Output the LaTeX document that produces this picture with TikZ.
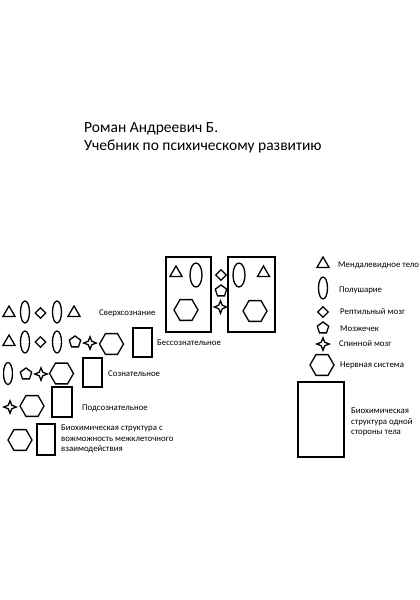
\documentclass[tikz,border=0pt]{standalone}
\usepackage{fontspec}
\setmainfont{Carlito}
\usetikzlibrary{shapes.geometric}

\tikzset{
  sign/.style={draw=black, line width=1.3pt, inner sep=0pt},
  tri/.style={sign, regular polygon, regular polygon sides=3, minimum size=14pt},
  oval/.style={sign, ellipse, minimum width=9pt, minimum height=22pt},
  bigoval/.style={sign, ellipse, minimum width=12pt, minimum height=24pt},
  dmd/.style={sign, diamond, minimum size=11pt},
  pent/.style={sign, regular polygon, regular polygon sides=5, minimum size=12pt},
  spark/.style={sign, star, star points=4, star point ratio=0.4, minimum size=5pt,
    shape border rotate=45},
  hex/.style={sign, regular polygon, regular polygon sides=6, minimum size=24pt},
  slab/.style={draw=black, line width=1.3pt},
  caption/.style={anchor=west, inner sep=0pt, font=\fontsize{8.8}{10.5}\selectfont},
  title/.style={anchor=base west, inner sep=0pt, font=\fontsize{15.5}{18}\selectfont}
}

\begin{document}
\begin{tikzpicture}[x=1pt, y=-1pt]
    % Page of the cover
    \useasboundingbox[fill=white] (0, 0) rectangle (420, 600);

    % Author and title
    \node[title] (author) at (84, 132) {Роман Андреевич Б.};
    \node[title] (book) at (84, 150) {Учебник по психическому развитию};

    % Row of the superconscious
    \node[tri] (a1) at (9, 313) {};
    \node[oval] (a2) at (25, 312) {};
    \node[dmd] (a3) at (40.5, 313) {};
    \node[oval] (a4) at (57, 312) {};
    \node[tri] (a5) at (74, 313) {};
    \node[caption] (super) at (99, 313) {Сверхсознание};

    % Row of the unconscious
    \node[tri] (b1) at (9, 342) {};
    \node[oval] (b2) at (25, 342) {};
    \node[dmd] (b3) at (40.5, 342) {};
    \node[oval] (b4) at (57, 342) {};
    \node[pent] (b5) at (75, 342) {};
    \node[spark] (b6) at (90, 343) {};
    \node[hex] (b7) at (111.5, 344) {};
    \draw[slab] (133, 328) rectangle (152, 357);
    \node[caption] (uncon) at (157, 343) {Бессознательное};

    % Row of the conscious
    \node[oval] (c1) at (8, 373.5) {};
    \node[pent] (c2) at (26, 374) {};
    \node[spark] (c3) at (41, 374) {};
    \node[hex] (c4) at (61.5, 373.5) {};
    \draw[slab] (83, 358) rectangle (102, 387);
    \node[caption] (con) at (108, 374) {Сознательное};

    % Row of the subconscious
    \node[spark] (d1) at (10, 407) {};
    \node[hex] (d2) at (32, 406) {};
    \draw[slab] (52, 387) rectangle (72, 417);
    \node[caption] (subcon) at (82, 408) {Подсознательное};

    % Row of the biochemical structure
    \node[hex] (e1) at (20, 440) {};
    \draw[slab] (37, 424) rectangle (55, 455);
    \node[caption, anchor=north west, align=left] (bio) at (61, 425)
      {Биохимическая структура с\\вожможность межклеточного\\взаимодействия};

    % Two halves of the body
    \draw[slab] (166, 257) rectangle (211, 332);
    \node[tri] (l1) at (176, 273) {};
    \node[bigoval] (l2) at (196, 275) {};
    \node[hex] (l3) at (186, 310) {};

    \node[dmd] (m1) at (221, 275) {};
    \node[pent] (m2) at (221, 291) {};
    \node[spark] (m3) at (220.5, 307) {};

    \draw[slab] (228, 257) rectangle (275, 332);
    \node[bigoval] (r1) at (239, 275) {};
    \node[tri] (r2) at (263.5, 273) {};
    \node[hex] (r3) at (255, 311) {};

    % Legend
    \node[tri] (k1) at (323, 264) {};
    \node[caption] at (338, 265) {Мендалевидное тело};
    \node[oval] (k2) at (323, 288) {};
    \node[caption] at (339, 290) {Полушарие};
    \node[dmd] (k3) at (323, 312) {};
    \node[caption] at (340, 312) {Рептильный мозг};
    \node[pent] (k4) at (323, 328) {};
    \node[caption] at (340, 329) {Мозжечек};
    \node[spark] (k5) at (323, 344) {};
    \node[caption] at (339, 344) {Спинной мозг};
    \node[hex] (k6) at (322, 365) {};
    \node[caption] at (340, 365) {Нервная система};
    \draw[slab] (298, 382) rectangle (344, 457);
    \node[caption, anchor=north west, align=left] (side) at (351, 408)
      {Биохимическая\\структура одной\\стороны тела};
\end{tikzpicture}
\end{document}
